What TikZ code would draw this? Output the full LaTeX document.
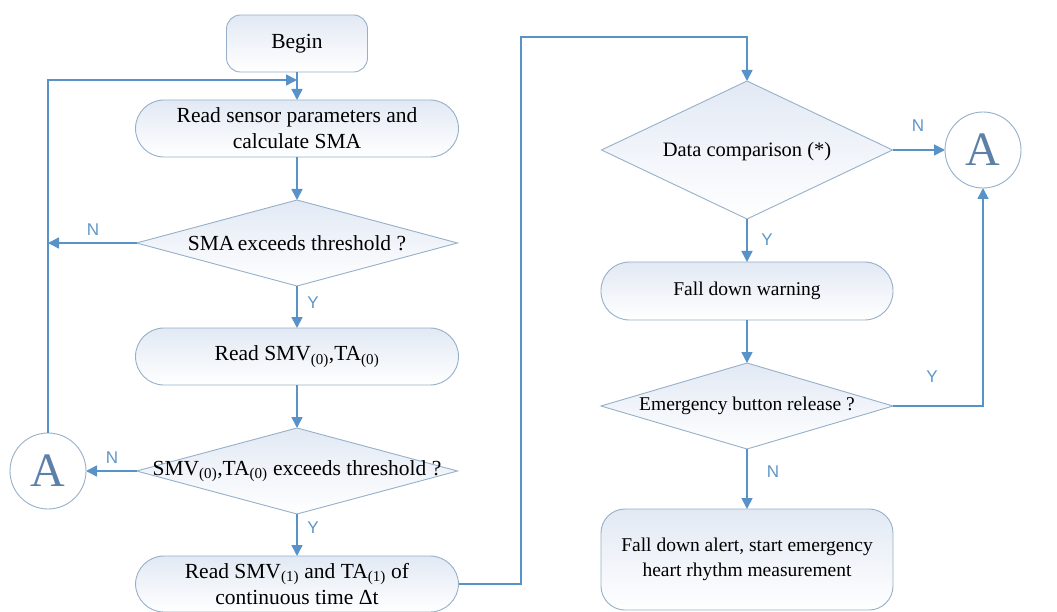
\documentclass[tikz,border=0pt]{standalone}
\usepackage{fontspec}
\setmainfont{Liberation Serif}
\newfontfamily\labelfont{Liberation Sans}
\usetikzlibrary{shapes.geometric,arrows.meta}

\definecolor{flowline}{RGB}{88,146,200}
\definecolor{edge}{RGB}{150,176,202}
\definecolor{shadetop}{RGB}{226,233,244}
\definecolor{conntext}{RGB}{92,128,168}
\definecolor{yncolor}{RGB}{95,150,200}

\tikzset{
  boxbase/.style={draw=edge, line width=0.9pt, top color=shadetop, bottom color=white,
    inner sep=0pt, outer sep=0pt, align=center,
    font=\fontsize{21.5}{26}\selectfont},
  smalltext/.style={font=\fontsize{19.5}{25}\selectfont},
  stadium/.style={boxbase, rectangle, rounded corners=28.5pt, minimum width=323pt, minimum height=57pt},
  startbox/.style={boxbase, rectangle, rounded corners=14pt, minimum width=141pt, minimum height=57pt},
  decision/.style={draw=edge, line width=0.9pt, top color=shadetop, bottom color=white,
    diamond, inner sep=0pt, outer sep=0pt},
  dtext/.style={font=\fontsize{21.5}{26}\selectfont, inner sep=0pt},
  connector/.style={circle, draw=edge, line width=0.9pt, fill=white, minimum size=76pt,
    inner sep=0pt, outer sep=0pt, text=conntext, font=\fontsize{48}{48}\selectfont},
  flow/.style={draw=flowline, line width=1.6pt, -{Triangle[length=11pt,width=11pt]}},
  yn/.style={text=yncolor, font=\labelfont\fontsize{17}{17}\selectfont, inner sep=0pt},
}

\begin{document}
\begin{tikzpicture}[x=1pt, y=-1pt]
\useasboundingbox (0,0) rectangle (1057,612);
\fill[white] (0,0) rectangle (1057,612);

% left column
\node[startbox] (begin) at (297,43.5) {Begin};
\node[stadium] (read1) at (297,128.5) {Read sensor parameters and\\calculate SMA};
\node[decision, minimum width=321pt, minimum height=86pt] (d1) at (297,243) {};
\node[dtext] (d1t) at (d1.center) {SMA\kern-2pt\ exceeds threshold ?};
\node[stadium] (read2) at (297,356.5) {Read SMV\textsubscript{(0)},TA\textsubscript{(0)}};
\node[decision, minimum width=321pt, minimum height=86pt] (d2) at (297,471) {};
\node[dtext] (d2t) at (d2.center) {SMV\textsubscript{(0)},TA\textsubscript{(0)} exceeds threshold ?};
\node[stadium, minimum height=56pt] (read3) at (297,584) {Read SMV\textsubscript{(1)} and TA\textsubscript{(1)} of\\continuous time Δt};
\node[connector] (A1) at (48,471) {A};

% right column
\node[decision, minimum width=291pt, minimum height=138pt] (d3) at (747,150) {};
\node[dtext, font=\fontsize{20.5}{25}\selectfont] (d3t) at (747,152) {Data comparison (*)};
\node[stadium, smalltext, minimum width=292pt, minimum height=58pt] (warn) at (747,291) {Fall down warning};
\node[decision, minimum width=292pt, minimum height=86pt] (d4) at (747,406) {};
\node[dtext, smalltext] (d4t) at (d4.center) {Emergency button release ?};
\node[boxbase, smalltext, rectangle, rounded corners=24pt, minimum width=292pt, minimum height=101pt] (alert) at (747,559.5)
  {Fall down alert, start emergency\\heart rhythm measurement};
\node[connector] (A2) at (983,150) {A};

% connectors
\coordinate (merge) at (297,80);
\coordinate (over) at (521,37);
\draw[flow] (begin.south) -- (read1.north);
\draw[flow] (A1.north) |- (merge);
\draw[flow] (read1.south) -- (d1.north);
\draw[flow] (d1.west) -- (d1.west -| A1.center);
\draw[flow] (d1.south) -- (read2.north);
\draw[flow] (read2.south) -- (d2.north);
\draw[flow] (d2.west) -- (A1.east);
\draw[flow] (d2.south) -- (read3.north);
\draw[flow] (read3.east) -| (over) -| (d3.north);
\draw[flow] (d3.east) -- (A2.west);
\draw[flow] (d3.south) -- (warn.north);
\draw[flow] (warn.south) -- (d4.north);
\draw[flow] (d4.east) -| (A2.south);
\draw[flow] (d4.south) -- (alert.north);

% branch labels
\node[yn] (n1) at (93,230) {N};
\node[yn] (y1) at (313,303) {Y};
\node[yn] (n2) at (112,458) {N};
\node[yn] (y2) at (313,528) {Y};
\node[yn] (n3) at (918,126) {N};
\node[yn] (y3) at (767,240) {Y};
\node[yn] (y4) at (932,377) {Y};
\node[yn] (n4) at (773,472) {N};
\end{tikzpicture}
\end{document}
